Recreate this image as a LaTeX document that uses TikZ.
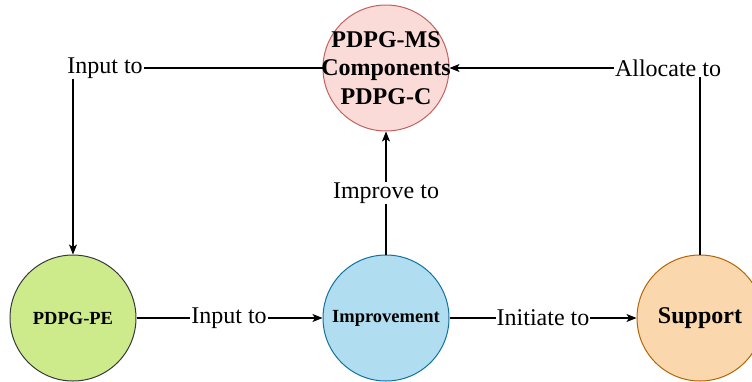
\documentclass[tikz,border=0pt]{standalone}
\usepackage{fontspec}
\setmainfont{Liberation Serif}
\usetikzlibrary{arrows.meta}
\definecolor{redfill}{HTML}{FADBD8}\definecolor{redline}{HTML}{C0625E}
\definecolor{greenfill}{HTML}{CDEB8B}\definecolor{greenline}{HTML}{36393D}
\definecolor{bluefill}{HTML}{B1DDF0}\definecolor{blueline}{HTML}{10739E}
\definecolor{orangefill}{HTML}{FAD7AC}\definecolor{orangeline}{HTML}{B46504}
\begin{document}
\begin{tikzpicture}[x=1pt,y=-1pt,
  ball/.style={circle,minimum size=126pt,inner sep=0pt,line width=1pt},
  conn/.style={line width=1.1pt,-{Stealth[length=10pt,width=8pt,inset=2.5pt]}},
  lbl/.style={fill=white,inner sep=1pt,font=\fontsize{24}{26}\selectfont},
  big/.style={font=\fontsize{24}{28.5}\selectfont\bfseries,align=center},
  small/.style={font=\fontsize{18.5}{22}\selectfont\bfseries}]
\useasboundingbox (0,0) rectangle (752,381);
\node[ball,fill=redfill,draw=redline] (ms) at (386,68) {};
\node[ball,fill=greenfill,draw=greenline] (pe) at (73,318) {};
\node[ball,fill=bluefill,draw=blueline] (imp) at (386,318) {};
\node[ball,fill=orangefill,draw=orangeline] (sup) at (700,318) {};
\draw[conn] (ms.west) -- (pe.north |- ms.west) -- (pe.north);
\draw[conn] (pe.east) -- (imp.west);
\draw[conn] (imp.north) -- (ms.south);
\draw[conn] (imp.east) -- (sup.west);
\draw[conn] (sup.north) -- (sup.north |- ms.east) -- (ms.east);
\node[big] (mst) at (ms.center) {PDPG-MS\\Components\\PDPG-C};
\node[small] (pet) at (pe.center) {PDPG-PE};
\node[small] (impt) at (imp.center) {Improvement};
\node[big] (supt) at (sup.center) {Support};
\node[lbl] (l1) at (105,68) {Input to};
\node[lbl] (l2) at (229,318) {Input to};
\node[lbl] (l3) at (386,193) {Improve to};
\node[lbl] (l4) at (543,318) {Initiate to};
\node[lbl] (l5) at (668,68) {Allocate to};
\end{tikzpicture}
\end{document}
